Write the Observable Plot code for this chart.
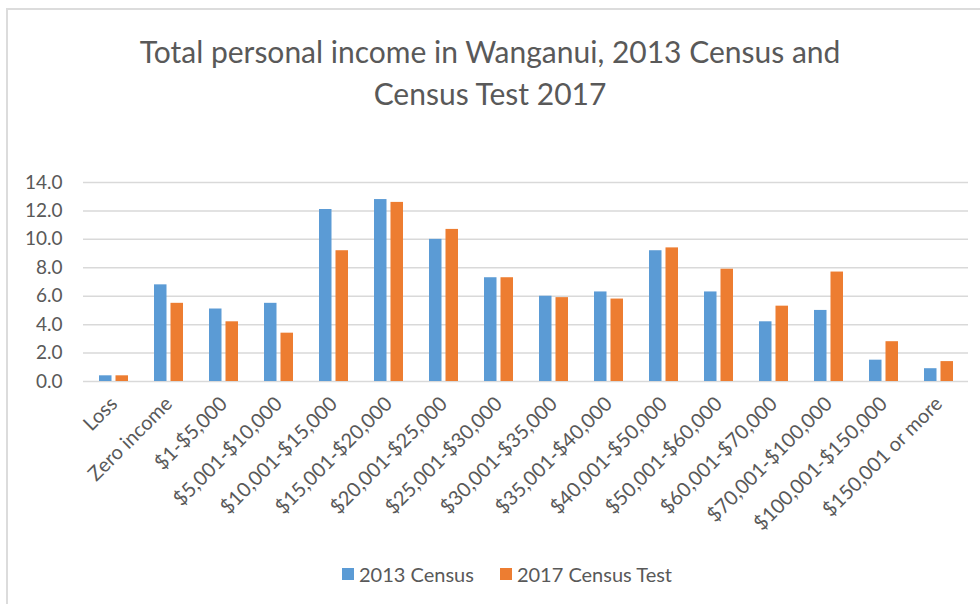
<!DOCTYPE html>
<html>
<head>
<meta charset="utf-8">
<script src="https://cdn.jsdelivr.net/npm/d3@7"></script>
<script src="https://cdn.jsdelivr.net/npm/@observablehq/plot@0.6"></script>
<style>
  html, body { margin: 0; padding: 0; background: #fff; }
  #wrap { position: relative; width: 980px; height: 604px; overflow: hidden; font-family: Lato, "Open Sans", sans-serif; color: #595959; }
  #frame { position: absolute; left: 6px; top: 8px; right: -10px; bottom: -10px; border-left: 2px solid #dcdcdc; border-top: 2px solid #dcdcdc; }
  #title { position: absolute; left: 0; width: 980px; top: 30px; text-align: center; font-size: 30px; line-height: 42px; }
  #chart { position: absolute; left: 0; top: 150px; }
  #legend { position: absolute; left: 342px; top: 562px; display: flex; gap: 26px; font-size: 20px; line-height: 24px; }
  .item { display: flex; align-items: center; gap: 5px; }
  .sw { width: 12px; height: 12px; display: inline-block; }
</style>
</head>
<body>
<div id="wrap">
  <div id="frame"></div>
  <div id="title">Total personal income in Wanganui, 2013 Census and<br>Census Test 2017</div>
  <div id="chart"></div>
  <div id="legend"></div>
</div>
<script>
const categories = ["Loss", "Zero income", "$1-$5,000", "$5,001-$10,000", "$10,001-$15,000", "$15,001-$20,000", "$20,001-$25,000", "$25,001-$30,000", "$30,001-$35,000", "$35,001-$40,000", "$40,001-$50,000", "$50,001-$60,000", "$60,001-$70,000", "$70,001-$100,000", "$100,001-$150,000", "$150,001 or more"];
const census2013 = [0.4, 6.8, 5.1, 5.5, 12.1, 12.8, 10.0, 7.3, 6.0, 6.3, 9.2, 6.3, 4.2, 5.0, 1.5, 0.9];
const census2017 = [0.4, 5.5, 4.2, 3.4, 9.2, 12.6, 10.7, 7.3, 5.9, 5.8, 9.4, 7.9, 5.3, 7.7, 2.8, 1.4];
const seriesNames = ["2013 Census", "2017 Census Test"];
const seriesColors = ["#5B9BD5", "#ED7D31"];
const yTicks = [0, 2, 4, 6, 8, 10, 12, 14];

const rows2013 = categories.map((c, i) => ({category: c, value: census2013[i]}));
const rows2017 = categories.map((c, i) => ({category: c, value: census2017[i]}));

const chart = Plot.plot({
  width: 980,
  height: 400,
  marginTop: 32,
  marginBottom: 169,
  marginLeft: 83,
  marginRight: 12,
  style: {fontFamily: "Lato, 'Open Sans', sans-serif", fontSize: "19px", color: "#595959", background: "transparent", overflow: "visible"},
  x: {domain: categories, paddingInner: 0.475, paddingOuter: 0.2375, label: null},
  y: {domain: [0, 14], ticks: yTicks, tickFormat: d3.format(".1f"), tickSize: 0, tickPadding: 21, label: null},
  marks: [
    Plot.ruleY(yTicks, {stroke: "#d9d9d9", strokeWidth: 1.5}),
    Plot.barY(rows2013, {x: "category", y: "value", fill: seriesColors[0], insetRight: 16.5}),
    Plot.barY(rows2017, {x: "category", y: "value", fill: seriesColors[1], insetLeft: 16.5}),
    Plot.axisX({tickSize: 0, tickRotate: -45, tickPadding: 19, fontSize: 20, label: null})
  ]
});
document.getElementById("chart").appendChild(chart);

const legend = document.getElementById("legend");
seriesNames.forEach((name, i) => {
  const item = document.createElement("div");
  item.className = "item";
  const sw = document.createElement("span");
  sw.className = "sw";
  sw.style.background = seriesColors[i];
  const t = document.createElement("span");
  t.textContent = name;
  item.appendChild(sw);
  item.appendChild(t);
  legend.appendChild(item);
});
</script>
</body>
</html>
